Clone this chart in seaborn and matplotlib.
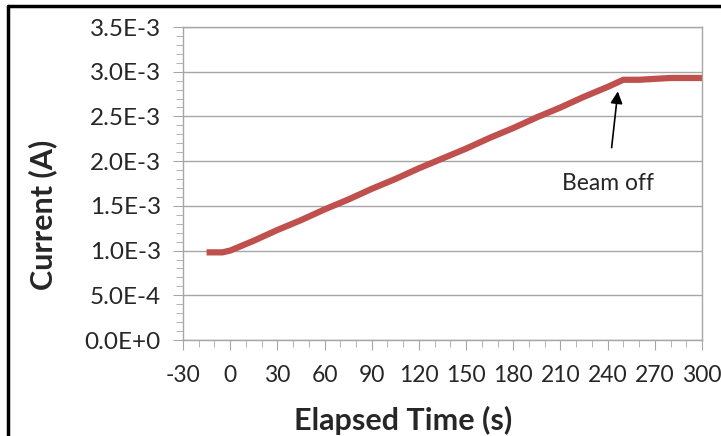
import matplotlib
matplotlib.use("Agg")
import matplotlib.pyplot as plt
import seaborn as sns
import pandas as pd
from matplotlib.lines import Line2D
from matplotlib.ticker import MultipleLocator

# values
time_s = [-15, -5, 0, 15, 30, 45, 60, 75, 90, 105, 120, 135, 150,
          165, 180, 195, 210, 225, 240, 250, 260, 270, 280, 290, 300]
current_mA = [0.98, 0.98, 1.00, 1.11, 1.23, 1.34, 1.46, 1.57, 1.69, 1.80,
              1.92, 2.03, 2.14, 2.26, 2.37, 2.49, 2.60, 2.72, 2.83, 2.91,
              2.91, 2.92, 2.93, 2.93, 2.93]
current_A = [c * 1e-3 for c in current_mA]

x_ticks = list(range(-30, 301, 30))
y_ticks = [0.0, 0.5e-3, 1.0e-3, 1.5e-3, 2.0e-3, 2.5e-3, 3.0e-3, 3.5e-3]
y_tick_labels = ["0.0E+0", "5.0E-4", "1.0E-3", "1.5E-3", "2.0E-3",
                 "2.5E-3", "3.0E-3", "3.5E-3"]

df = pd.DataFrame({"Elapsed Time (s)": time_s, "Current (A)": current_A})

sns.set_style("white")
plt.rcParams['font.family'] = ['Lato', 'DejaVu Sans']

fig = plt.figure(figsize=(7.21, 4.36), dpi=100)
ax = fig.add_axes([183 / 721, 1 - 340 / 436, 519 / 721, 313 / 436])

sns.lineplot(x="Elapsed Time (s)", y="Current (A)", data=df, ax=ax,
             color="#C0504D", linewidth=4.5, solid_capstyle="butt")

ax.set_xlim(-30, 300)
ax.set_ylim(0, 3.5e-3)
ax.set_xticks(x_ticks)
ax.set_xticklabels([str(t) for t in x_ticks])
ax.set_yticks(y_ticks)
ax.set_yticklabels(y_tick_labels)
ax.xaxis.set_minor_locator(MultipleLocator(10))
ax.yaxis.set_minor_locator(MultipleLocator(1e-4))

ax.grid(axis="y", color="#A6A6A6", linewidth=1)
ax.grid(axis="x", visible=False)
for s in ax.spines.values():
    s.set_color("#A6A6A6")
    s.set_linewidth(1)

ax.tick_params(which="major", direction="out", length=7, color="#A6A6A6",
               bottom=True, left=True)
ax.tick_params(which="minor", direction="out", length=5, color="#A6A6A6",
               bottom=True, left=True)
ax.tick_params(axis="x", pad=11, labelsize=16.5)
ax.tick_params(axis="y", pad=9, labelsize=17.5)

ax.set_xlabel("Elapsed Time (s)", fontsize=22, fontweight="bold")
ax.set_ylabel("Current (A)", fontsize=22, fontweight="bold")
ax.xaxis.set_label_coords(0.424, -0.21)
ax.yaxis.set_label_coords(-0.243, 0.40)

ax.annotate("Beam off", xy=(246.5, 2.78e-3), xytext=(240, 1.75e-3),
            ha="center", va="center", fontsize=16.5,
            arrowprops=dict(arrowstyle="-|>", color="black", lw=1.2,
                            shrinkA=16, shrinkB=0, mutation_scale=18))

# outer chart border (left and top edges visible)
fig.add_artist(Line2D([8 / 721, 8 / 721], [0, 1 - 6 / 436],
                      transform=fig.transFigure, color="black", lw=2.5))
fig.add_artist(Line2D([8 / 721, 1], [1 - 6 / 436, 1 - 6 / 436],
                      transform=fig.transFigure, color="black", lw=2.5))

fig.savefig("out.png", dpi=100)
